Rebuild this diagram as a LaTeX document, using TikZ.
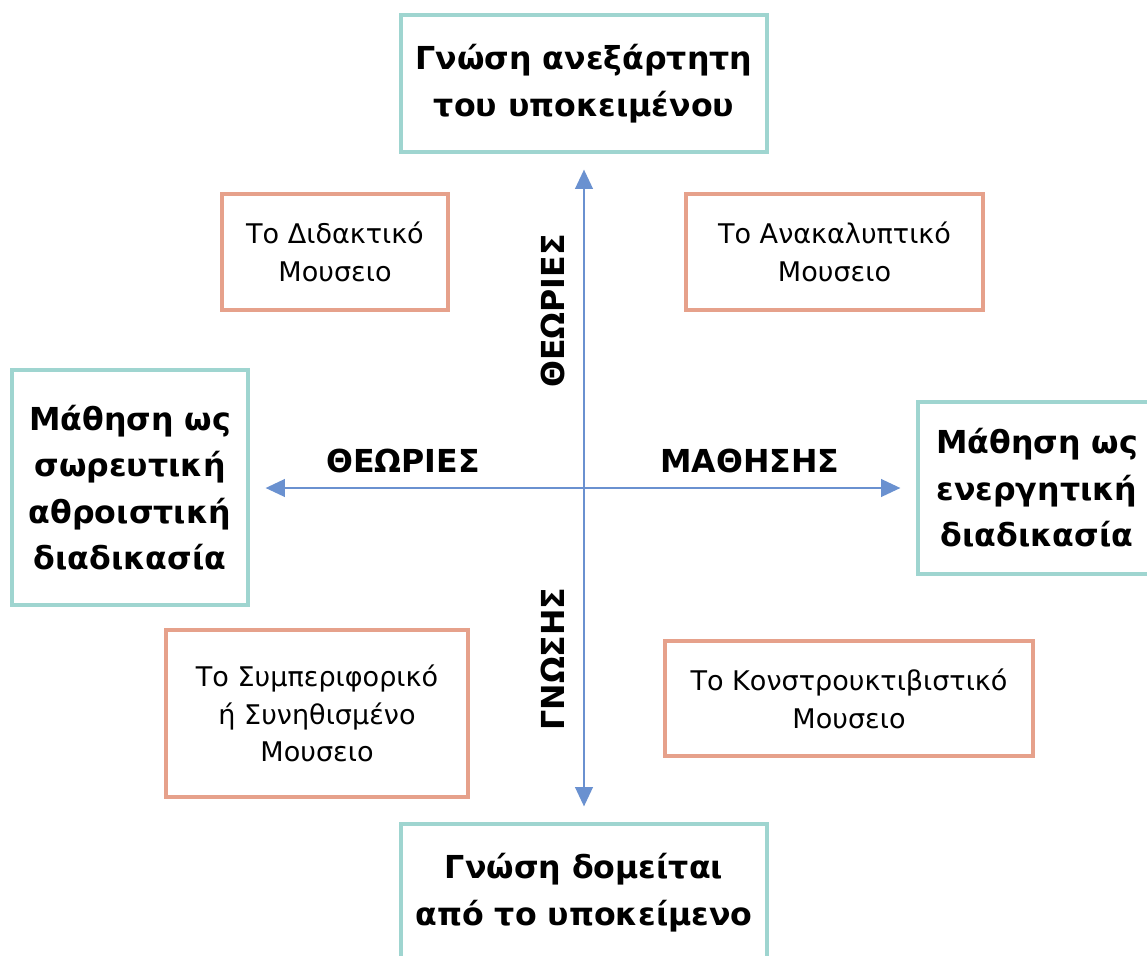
\documentclass[tikz,border=0pt]{standalone}
\usepackage{fontspec}
\setmainfont{DejaVu Sans}
\usetikzlibrary{arrows.meta}

\definecolor{tealbox}{HTML}{9FD5D0}
\definecolor{orangebox}{HTML}{E6A18B}
\definecolor{axisblue}{HTML}{6A91D0}

\begin{document}
\begin{tikzpicture}[
    pole/.style={draw=tealbox, line width=1.8pt, align=center,
        font=\bfseries\fontsize{18}{26.5}\selectfont, inner sep=0pt},
    museum/.style={draw=orangebox, line width=1.8pt, align=center,
        font=\fontsize{15.4}{21.5}\selectfont, inner sep=0pt},
    axis/.style={axisblue, line width=1.3pt, -{Triangle[width=10pt,length=11pt]},
        shorten >=0.32cm},
    axislabel/.style={font=\bfseries\fontsize{18}{22}\selectfont}
]
\useasboundingbox (0,0) rectangle (22.94,-19.1);
% poles of the two axes
\node[pole, minimum width=7.32cm, minimum height=2.74cm] (indep) at (11.68,-1.67) {Γνώση ανεξάρτητη\\του υποκειμένου};
\node[pole, minimum width=7.32cm, minimum height=2.74cm] (built) at (11.68,-17.85) {Γνώση δομείται\\από το υποκείμενο};
\node[pole, minimum width=4.72cm, minimum height=4.70cm] (cumul) at (2.60,-9.75) {Μάθηση ως\\σωρευτική\\αθροιστική\\διαδικασία};
\node[pole, minimum width=4.76cm, minimum height=3.44cm] (active) at (20.74,-9.76) {Μάθηση ως\\ενεργητική\\διαδικασία};
% the four museums
\node[museum, minimum width=4.52cm, minimum height=2.32cm] (didact) at (6.70,-5.04) {Το Διδακτικό\\Μουσειο};
\node[museum, minimum width=5.94cm, minimum height=2.32cm] (discov) at (16.69,-5.04) {Το Ανακαλυπτικό\\Μουσειο};
\node[museum, minimum width=6.04cm, minimum height=3.34cm] (behav) at (6.34,-14.27) {Το Συμπεριφορικό\\ή Συνηθισμένο\\Μουσειο};
\node[museum, minimum width=7.36cm, minimum height=2.30cm] (constr) at (16.98,-13.97) {Το Κονστρουκτιβιστικό\\Μουσειο};
% axes
\coordinate (o) at (11.68,-9.76);
\draw[axis] (o) -- (indep.south);
\draw[axis] (o) -- (built.north);
\draw[axis] (o) -- (o -| cumul.east);
\draw[axis] (o) -- (o -| active.west);
% axis labels
\node[axislabel] (theorH) at (8.06,-9.22) {ΘΕΩΡΙΕΣ};
\node[axislabel] (learnH) at (15.0,-9.22) {ΜΑΘΗΣΗΣ};
\node[axislabel, rotate=90] (theorV) at (11.06,-6.22) {ΘΕΩΡΙΕΣ};
\node[axislabel, rotate=90] (knowV) at (11.06,-13.18) {ΓΝΩΣΗΣ};
\end{tikzpicture}
\end{document}
